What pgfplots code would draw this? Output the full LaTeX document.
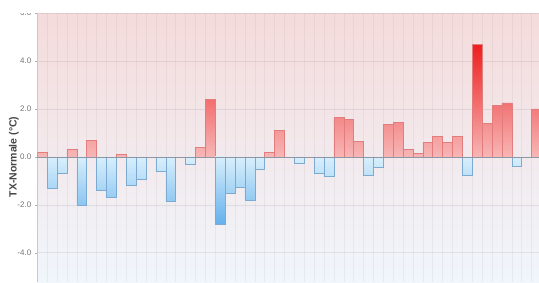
\documentclass[border=0pt]{standalone}
\usepackage{pgfplots}
\pgfplotsset{compat=1.18}
\usepackage{fontspec}
\setmainfont{Liberation Sans}
\definecolor{bgtop}{RGB}{245,219,219}
\definecolor{bgmid}{RGB}{249,241,242}
\definecolor{bgbot}{RGB}{240,246,252}
\definecolor{pos0}{RGB}{247,182,182}
\definecolor{posmax}{RGB}{238,30,30}
\definecolor{neg0}{RGB}{216,239,252}
\definecolor{negmax}{RGB}{100,176,236}
\definecolor{posedge}{RGB}{226,125,125}
\definecolor{negedge}{RGB}{125,170,208}
\definecolor{ticklab}{RGB}{115,115,115}
\definecolor{labgray}{RGB}{70,70,70}
\definecolor{zeroline}{RGB}{140,150,165}
\begin{document}
\begin{tikzpicture}
\useasboundingbox (-37.3pt,0pt) rectangle (501.7pt,282pt);
\clip (-37.3pt,0pt) rectangle (501.7pt,269pt);
\begin{axis}[
  at={(0pt,0pt)}, anchor=south west, scale only axis,
  width=501.7pt, height=269pt,
  xmin=-0.5, xmax=50.25, ymin=-5.22, ymax=6,
  axis background/.style={shade, top color=bgtop, middle color=bgmid, bottom color=bgbot},
  axis y line*=left, axis x line*=bottom,
  x axis line style={draw=none},
  y axis line style={draw={rgb,255:red,200;green,200;blue,205}, line width=0.6pt},
  xtick={-0.5,0.5,...,50.5}, xticklabels={},
  xtick style={draw=none},
  xmajorgrids, ymajorgrids,
  major x grid style={color=black, opacity=0.045, line width=0.5pt},
  major y grid style={color=black, opacity=0.07, line width=0.6pt},
  ytick={-4,-2,0,2,4,6},
  ytick style={draw={rgb,255:red,175;green,175;blue,175}, line width=0.5pt},
  tick align=outside, major tick length=2.5pt,
  yticklabel style={font=\fontsize{8}{9}\selectfont, text=ticklab,
    /pgf/number format/.cd, fixed, fixed zerofill, precision=1, assume math mode=true},
  ylabel={TX-Normale (°C)},
  ylabel style={at={(axis description cs:-0.0464,0.4647)}, anchor=center,
    font=\bfseries\fontsize{10.5}{12}\selectfont, text=labgray},
  mybar/.style={ybar, bar width=1, bar shift=0pt, line width=0.5pt},
]
% positive bars, grouped by height (gradient colour depends on height)
\addplot[mybar, draw=posedge, shade, top color=posmax!6!pos0, bottom color=pos0]
  coordinates {(0,0.2)(3,0.3)(8,0.1)(16,0.4)(23,0.2)(37,0.3)(38,0.15)};
\addplot[mybar, draw=posedge, shade, top color=posmax!15!pos0, bottom color=pos0]
  coordinates {(5,0.7)(32,0.65)(39,0.6)(40,0.85)(41,0.6)(42,0.85)};
\addplot[mybar, draw=posedge, shade, top color=posmax!30!pos0, bottom color=pos0]
  coordinates {(24,1.1)(30,1.65)(31,1.55)(35,1.35)(36,1.45)(45,1.4)};
\addplot[mybar, draw=posedge, shade, top color=posmax!47!pos0, bottom color=pos0]
  coordinates {(17,2.4)(46,2.15)(47,2.25)(50,2.0)};
\addplot[mybar, draw=posedge, shade, top color=posmax, bottom color=pos0]
  coordinates {(44,4.7)};
% negative bars
\addplot[mybar, draw=negedge, shade, top color=neg0, bottom color=negmax!14!neg0]
  coordinates {(15,-0.3)(22,-0.5)(26,-0.25)(34,-0.45)(48,-0.4)};
\addplot[mybar, draw=negedge, shade, top color=neg0, bottom color=negmax!27!neg0]
  coordinates {(2,-0.7)(10,-0.95)(12,-0.6)(28,-0.7)(29,-0.8)(33,-0.75)(43,-0.75)};
\addplot[mybar, draw=negedge, shade, top color=neg0, bottom color=negmax!46!neg0]
  coordinates {(1,-1.3)(6,-1.4)(9,-1.2)(19,-1.5)(20,-1.25)};
\addplot[mybar, draw=negedge, shade, top color=neg0, bottom color=negmax!66!neg0]
  coordinates {(4,-2.0)(7,-1.7)(13,-1.85)(21,-1.8)};
\addplot[mybar, draw=negedge, shade, top color=neg0, bottom color=negmax]
  coordinates {(18,-2.8)};
% bars at zero
\addplot[mybar, draw=zeroline] coordinates {(11,0)(14,0)(25,0)(27,0)(49,0)};
% zero line
\addplot[color=zeroline, line width=0.6pt, mark=none] coordinates {(-0.5,0)(50.25,0)};
\end{axis}
\end{tikzpicture}
\end{document}
